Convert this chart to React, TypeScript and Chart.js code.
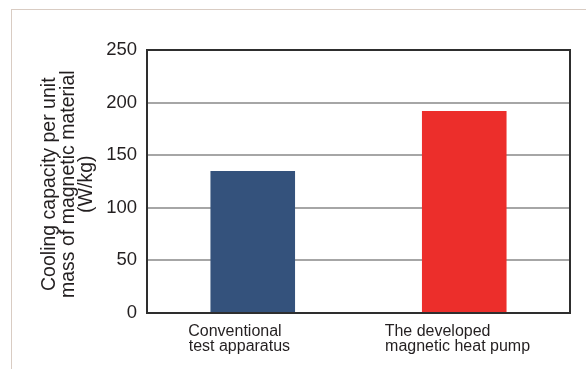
import React, { useEffect, useRef } from "react";
import { Chart, registerables } from "chart.js";

Chart.register(...registerables);

// ---- data ----
const categories: string[][] = [
  ["Conventional", "test apparatus"],
  ["The developed", "magnetic heat pump"],
];
const values: number[] = [135, 192];
const barColors: string[] = ["#34527c", "#ec2e2b"];
const yTicks: number[] = [0, 50, 100, 150, 200, 250];
const yTitle: string[] = [
  "Cooling capacity per unit",
  "mass of magnetic material",
  "(W/kg)",
];

// ---- style ----
const FONT = 'Arial, "Liberation Sans", Helvetica, sans-serif';
const TEXT = "#231f20";
const labelPad: number[][] = [
  [8, 6],
  [12, 3],
];

const boxPlugin = {
  id: "boxPlugin",
  afterDatasetsDraw(chart: any) {
    const { ctx, chartArea: a } = chart;
    ctx.save();
    ctx.strokeStyle = "#2e2e2e";
    ctx.lineWidth = 2;
    ctx.strokeRect(a.left, a.top, a.right - a.left, a.bottom - a.top);
    ctx.restore();
  },
};

export default function App() {
  const ref = useRef<HTMLCanvasElement | null>(null);

  useEffect(() => {
    if (!ref.current) return;
    const chart = new Chart(ref.current, {
      type: "bar",
      data: {
        labels: categories.map((c) => c.join(" ")),
        datasets: [
          {
            data: values,
            backgroundColor: barColors,
            borderWidth: 0,
            barPercentage: 0.4,
            categoryPercentage: 1,
          },
        ],
      },
      options: {
        responsive: false,
        animation: false,
        devicePixelRatio: 1,
        layout: { padding: { left: 0, top: 50, right: 16, bottom: 0 } },
        plugins: {
          legend: { display: false },
          tooltip: { enabled: false },
        },
        scales: {
          x: {
            grid: { display: false, drawTicks: false },
            border: { display: false },
            ticks: {
              color: TEXT,
              padding: 11,
              maxRotation: 0,
              autoSkip: false,
              font: { family: FONT, size: 16, lineHeight: "15px" },
              callback: (_v: any, i: number) =>
                categories[i].map((l, j) => l + " ".repeat(labelPad[i][j])),
            },
            afterFit: (s: any) => {
              s.height = 56;
            },
          },
          y: {
            min: 0,
            max: 250,
            afterBuildTicks: (s: any) => {
              s.ticks = yTicks.map((v) => ({ value: v }));
            },
            grid: { color: "#a6a6a6", lineWidth: 2, drawTicks: false },
            border: { display: false },
            ticks: {
              color: TEXT,
              padding: 10,
              font: { family: FONT, size: 18.5 },
            },
            title: {
              display: true,
              text: yTitle.map((t) => t + " "),
              color: TEXT,
              font: { family: FONT, size: 19.5, lineHeight: "18.5px" },
              padding: { top: 40.7, bottom: 0 },
            },
            afterFit: (s: any) => {
              s.width = 147;
            },
          },
        },
      },
      plugins: [boxPlugin],
    });
    return () => chart.destroy();
  }, []);

  return (
    <>
      <div
        style={{
          position: "absolute",
          left: 11,
          top: 9,
          width: 574,
          height: 359,
          borderTop: "1px solid #d9ccc3",
          borderLeft: "1px solid #d9ccc3",
        }}
      />
      <canvas
        ref={ref}
        width={586}
        height={369}
        style={{ position: "absolute", left: 0, top: 0, width: 586, height: 369 }}
      />
    </>
  );
}
